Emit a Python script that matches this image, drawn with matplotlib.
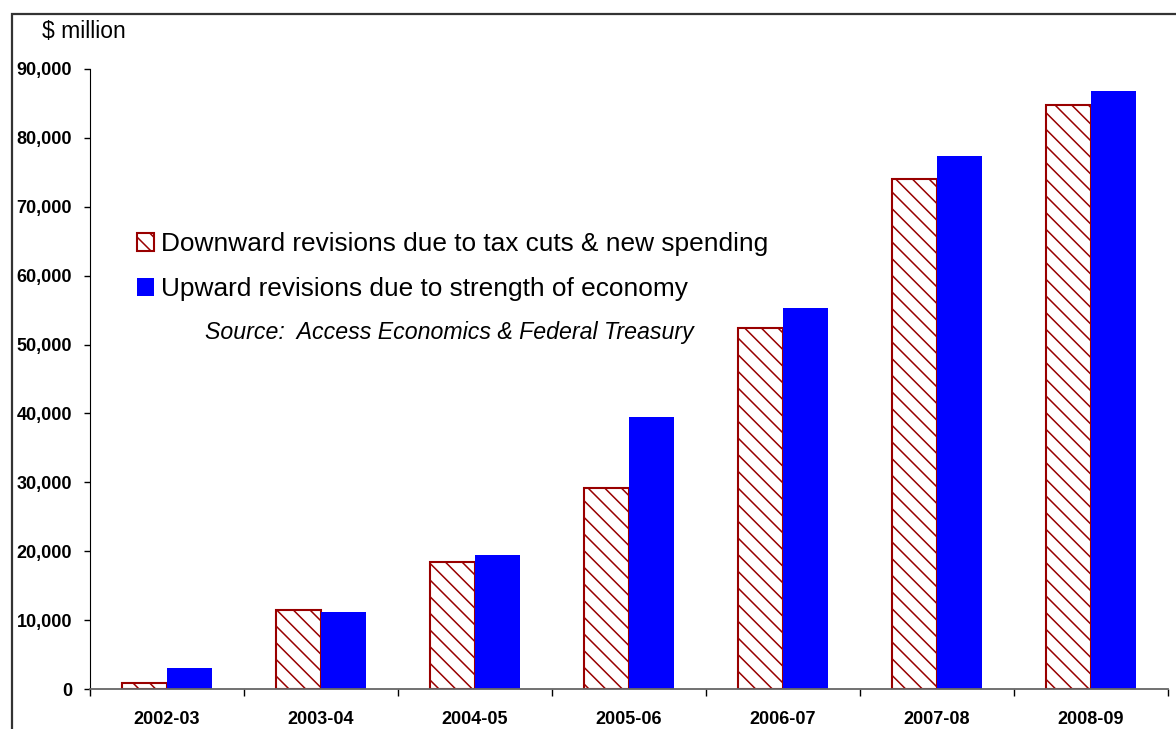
import matplotlib
matplotlib.use('Agg')
import matplotlib.pyplot as plt
from matplotlib.patches import Rectangle
from matplotlib.ticker import FuncFormatter
import numpy as np

plt.rcParams['font.family'] = ['Liberation Sans', 'DejaVu Sans']
plt.rcParams['hatch.color'] = '#990000'
plt.rcParams['hatch.linewidth'] = 1.1

# data ($ million)
years = ['2002-03', '2003-04', '2004-05', '2005-06', '2006-07', '2007-08', '2008-09']
downward = [900, 11450, 18480, 29170, 52440, 74000, 84760]
upward = [3000, 11150, 19490, 39430, 55300, 77360, 86750]
down_label = 'Downward revisions due to tax cuts & new spending'
up_label = 'Upward revisions due to strength of economy'
source = 'Source:  Access Economics & Federal Treasury'

fig = plt.figure(figsize=(11.76, 7.29), dpi=100)
ax = fig.add_axes([90 / 1176, 1 - 689 / 729, 1078 / 1176, 620 / 729])

x = np.arange(len(years))
w = 0.29
b1 = ax.bar(x - w / 2, downward, w, facecolor='white', edgecolor='#990000',
            hatch='\\\\', linewidth=1.5, label=down_label)
b2 = ax.bar(x + w / 2, upward, w, color='#0000ff', linewidth=0, label=up_label)

ax.set_xlim(-0.5, len(years) - 0.5)
ax.set_ylim(0, 90000)
ax.set_yticks(np.arange(0, 90001, 10000))
ax.yaxis.set_major_formatter(FuncFormatter(lambda v, p: f'{int(v):,}'))
ax.set_xticks(x)
ax.set_xticklabels(years)
ax.set_xticks(np.arange(-0.5, len(years), 1), minor=True)
ax.tick_params(axis='x', which='major', length=0, pad=16)
ax.tick_params(axis='x', which='minor', length=5, width=1, color='black')
ax.tick_params(axis='y', length=4, width=1, pad=9)
for lab in ax.get_xticklabels() + ax.get_yticklabels():
    lab.set_fontweight('bold')
    lab.set_fontsize(13)

for s in ['top', 'right']:
    ax.spines[s].set_visible(False)
ax.spines['left'].set_color('black')
ax.spines['bottom'].set_color('#666666')
ax.spines['bottom'].set_linewidth(1.3)

leg = ax.legend(handles=[b1, b2], loc='upper left', bbox_to_anchor=(137 / 1176, 1 - 232 / 729),
                bbox_transform=fig.transFigure, frameon=False, fontsize=18.9,
                handlelength=0.65, handleheight=0.65, handletextpad=0.25,
                labelspacing=0.8, borderpad=0, borderaxespad=0)

fig.text(205 / 1176, 1 - 332 / 729, source, fontsize=16.7, style='italic', va='center')
fig.text(42 / 1176, 1 - 31 / 729, '$ million', fontsize=16.5, va='center')

# outer frame
fig.patches.append(Rectangle((12 / 1176, -0.1), 1.2, 1 - 14 / 729 + 0.1,
                             transform=fig.transFigure, fill=False,
                             edgecolor='#333333', linewidth=1.6, clip_on=False))

fig.savefig('out.png', dpi=100)
